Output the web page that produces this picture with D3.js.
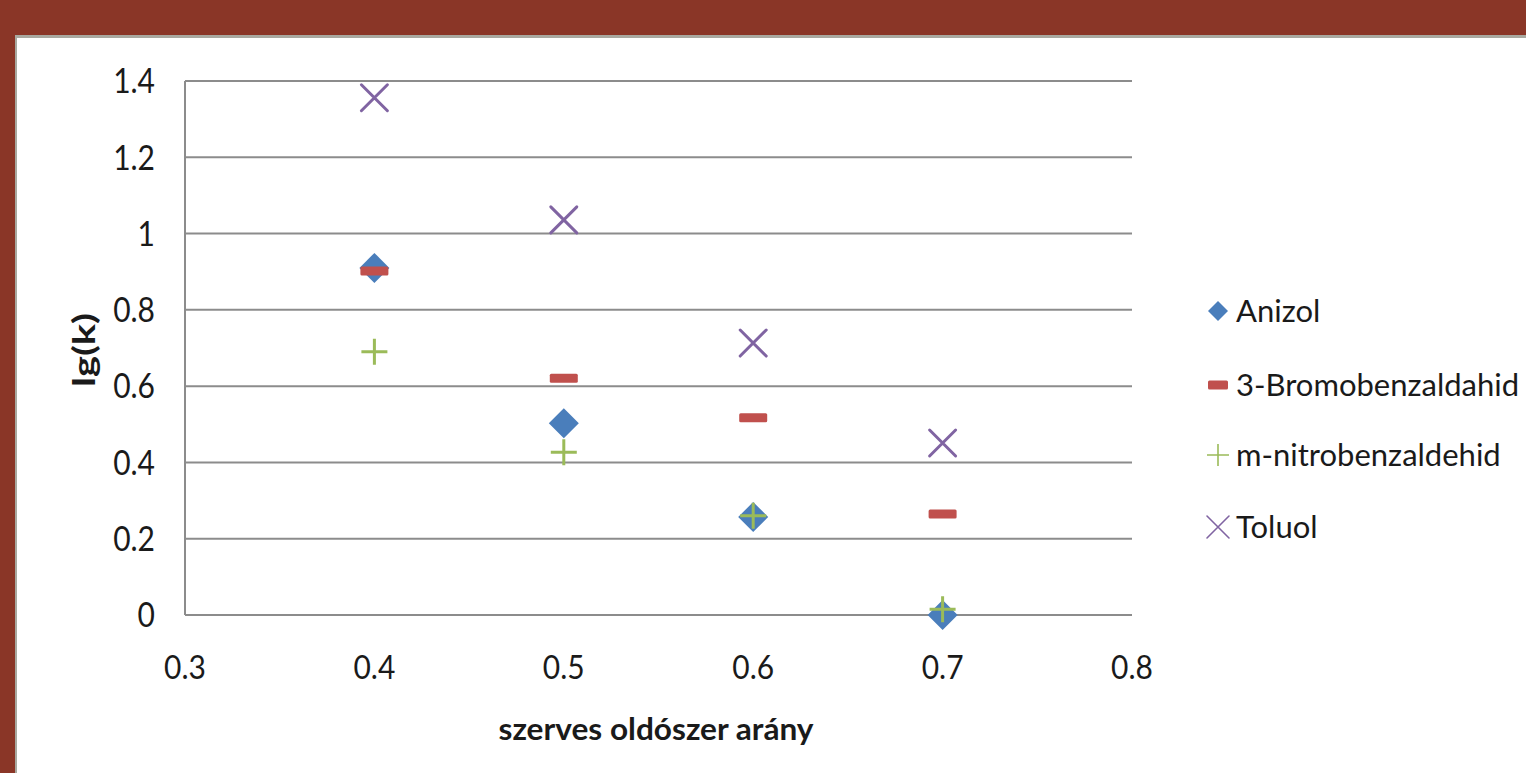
<!DOCTYPE html>
<html>
<head>
<meta charset="utf-8">
<script src="https://cdn.jsdelivr.net/npm/d3@7"></script>
<style>
  html, body { margin: 0; padding: 0; background: #8a3627; }
  svg { display: block; }
  text { font-family: Lato, "Open Sans", sans-serif; fill: #1a1a1a; }
</style>
</head>
<body>
<script>
// Solvent ratio (x) and lg(k) per compound
const ratios = [0.4, 0.5, 0.6, 0.7];
const anizol = [0.91, 0.503, 0.257, 0.0];
const bromobenzaldahid = [0.902, 0.621, 0.517, 0.265];
const nitrobenzaldehid = [0.69, 0.427, 0.26, 0.015];
const toluol = [1.356, 1.036, 0.713, 0.451];

const seriesNames = ["Anizol", "3-Bromobenzaldahid", "m-nitrobenzaldehid", "Toluol"];
const xTicks = [0.3, 0.4, 0.5, 0.6, 0.7, 0.8];
const yTicks = [0, 0.2, 0.4, 0.6, 0.8, 1, 1.2, 1.4];

const W = 1526, H = 773;
const svg = d3.select("body").append("svg").attr("width", W).attr("height", H);

// framed white panel
svg.append("rect").attr("x", 0).attr("y", 0).attr("width", W).attr("height", H).attr("fill", "#8a3627");
svg.append("rect").attr("x", 15).attr("y", 35).attr("width", W - 15).attr("height", H - 35).attr("fill", "#a9a9a0");
svg.append("rect").attr("x", 17).attr("y", 38).attr("width", W - 17).attr("height", H - 38).attr("fill", "#ffffff");

const x = d3.scaleLinear().domain([0.3, 0.8]).range([185, 1132]);
const y = d3.scaleLinear().domain([0, 1.4]).range([615, 81]);

// horizontal gridlines
svg.append("g").selectAll("line").data(yTicks).join("line")
  .attr("x1", x(0.3)).attr("x2", x(0.8))
  .attr("y1", d => y(d)).attr("y2", d => y(d))
  .attr("stroke", "#8c8c8c").attr("stroke-width", 2);

// left axis line
svg.append("line").attr("x1", x(0.3)).attr("x2", x(0.3))
  .attr("y1", y(1.4)).attr("y2", y(0))
  .attr("stroke", "#8c8c8c").attr("stroke-width", 2);

// y tick labels (slightly tall lettering)
const yFmt = d => d === 0 ? "0" : (Number.isInteger(d) ? String(d) : d.toFixed(1));
svg.append("g").selectAll("text").data(yTicks).join("text")
  .attr("transform", d => `translate(155,${y(d)}) scale(1,1.14)`)
  .attr("dy", "0.36em")
  .attr("text-anchor", "end").style("font-size", "30px")
  .text(yFmt);

// x tick labels
svg.append("g").selectAll("text").data(xTicks).join("text")
  .attr("transform", d => `translate(${x(d)},667) scale(1,1.12)`)
  .attr("dy", "0.36em")
  .attr("text-anchor", "middle").style("font-size", "30px")
  .text(d => d.toFixed(1));

// axis titles
svg.append("text").attr("x", 656).attr("y", 729).attr("dy", "0.36em")
  .attr("text-anchor", "middle").style("font-size", "31px").style("font-weight", "bold")
  .attr("textLength", 315).attr("lengthAdjust", "spacingAndGlyphs")
  .text("szerves oldószer arány");
svg.append("text").attr("transform", "translate(84,350) rotate(-90)").attr("dy", "0.36em")
  .attr("text-anchor", "middle").style("font-size", "31px").style("font-weight", "bold")
  .attr("textLength", 74).attr("lengthAdjust", "spacingAndGlyphs")
  .text("lg(k)");

const colors = ["#4a7ebb", "#c0504d", "#9bbb59", "#8064a2"];

// marker drawers, size s = half extent
const markers = [
  (g, s) => g.append("path").attr("d", `M0,${-s}L${s},0L0,${s}L${-s},0Z`).attr("fill", colors[0]),
  (g, s) => g.append("rect").attr("x", -s).attr("y", -4.5).attr("width", 2 * s).attr("height", 9)
              .attr("rx", 1.5).attr("fill", colors[1]),
  (g, s) => g.append("path").attr("d", `M${-s},0H${s}M0,${-s}V${s}`).attr("stroke", colors[2])
              .attr("stroke-width", 3).attr("fill", "none"),
  (g, s) => g.append("path").attr("d", `M${-s},${-s}L${s},${s}M${s},${-s}L${-s},${s}`).attr("stroke", colors[3])
              .attr("stroke-width", 3).attr("stroke-linecap", "round").attr("fill", "none")
];
const plotSizes = [15, 14, 13, 13];

const allSeries = [anizol, bromobenzaldahid, nitrobenzaldehid, toluol];
allSeries.forEach((vals, i) => {
  const g = svg.append("g");
  g.selectAll("g").data(ratios.map((r, j) => [r, vals[j]])).join("g")
    .attr("transform", d => `translate(${x(d[0])},${y(d[1])})`)
    .each(function () { markers[i](d3.select(this), plotSizes[i]); });
});

// legend
const legendY = [311, 385, 455, 527];
const legendSizes = [10, 10, 11, 11];
const legend = svg.append("g");
seriesNames.forEach((name, i) => {
  const row = legend.append("g").attr("transform", `translate(1218,${legendY[i]})`);
  markers[i](row, legendSizes[i]);
  if (i === 2 || i === 3) row.selectAll("path").attr("stroke-width", 1.6);
  row.append("text").attr("x", 18).attr("dy", "0.36em").style("font-size", "31px").text(name);
});
</script>
</body>
</html>
